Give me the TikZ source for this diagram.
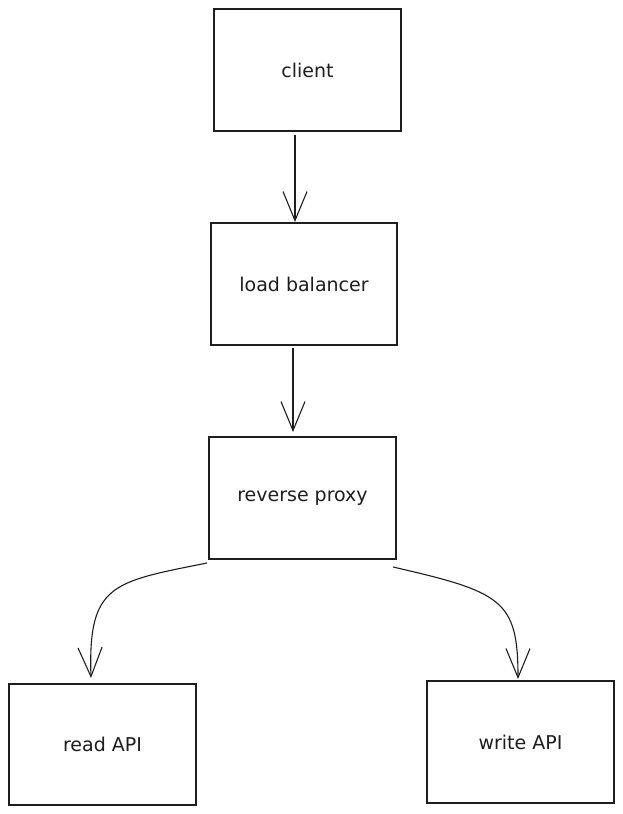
\documentclass[tikz,border=0pt]{standalone}
\usepackage{fontspec}
\setmainfont{DejaVu Sans}
\usetikzlibrary{arrows.meta}
\definecolor{ink}{HTML}{1E1E1E}
\tikzset{
  box/.style={draw=ink, line width=1.2pt, fill=white, inner sep=0pt,
              font=\fontsize{19}{22}\selectfont, text=ink},
  arr/.style={draw=ink, line width=1.1pt,
              -{Straight Barb[length=29pt,width=24pt,line width=1.1pt]}},
}
\begin{document}
\begin{tikzpicture}[x=1pt,y=-1pt]
  \useasboundingbox[fill=white] (0,0) rectangle (623,814);

  % service boxes
  \node[box, minimum width=187pt, minimum height=122pt] (client) at (307.5,70) {client};
  \node[box, minimum width=186pt, minimum height=122pt] (lb)     at (304,284) {load balancer};
  \node[box, minimum width=187pt, minimum height=122pt] (rp)     at (302.5,498) {reverse proxy};
  \node[box, minimum width=187pt, minimum height=121pt] (read)   at (102.5,744.5) {read API};
  \node[box, minimum width=187pt, minimum height=122pt] (write)  at (520.5,742) {write API};

  % connector ends
  \coordinate (c1) at (295,135);
  \coordinate (c2) at (295,222);
  \coordinate (l1) at (293,348);
  \coordinate (l2) at (293,432);
  \coordinate (r1) at (207,563);
  \coordinate (r2) at (91,678);
  \coordinate (w1) at (393,567);
  \coordinate (w2) at (518,679);

  % vertical request path
  \draw[arr] (c1) -- (c2);
  \draw[arr] (l1) -- (l2);

  % fan-out to the two APIs
  \draw[arr] (r1) .. controls (112,582) and (88,584) .. (r2);
  \draw[arr] (w1) .. controls (502,592) and (518,600) .. (w2);
\end{tikzpicture}
\end{document}
